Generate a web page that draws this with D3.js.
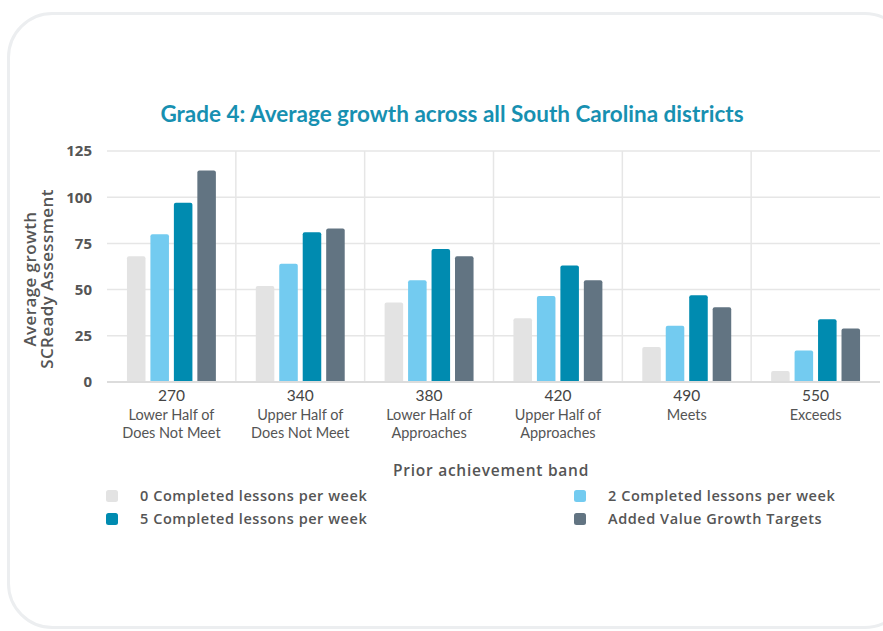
<!DOCTYPE html>
<html>
<head>
<meta charset="utf-8">
<script src="https://cdn.jsdelivr.net/npm/d3@7"></script>
<style>
  body { margin: 0; background: #fff; }
  svg { display: block; font-family: Lato, 'Open Sans', sans-serif; }
</style>
</head>
<body>
<div id="chart"></div>
<script>
// data
const bandScores = ['270', '340', '380', '420', '490', '550']
const bandNames = [
  ['Lower Half of', 'Does Not Meet'],
  ['Upper Half of', 'Does Not Meet'],
  ['Lower Half of', 'Approaches'],
  ['Upper Half of', 'Approaches'],
  ['Meets'],
  ['Exceeds']
]
const seriesNames = [
  '0 Completed lessons per week',
  '2 Completed lessons per week',
  '5 Completed lessons per week',
  'Added Value Growth Targets'
]
const zeroLessons = [68, 52, 43, 34.5, 19, 6]
const twoLessons = [80, 64, 55, 46.5, 30.5, 17]
const fiveLessons = [97, 81, 72, 63, 47, 34]
const growthTargets = [114.5, 83, 68, 55, 40.5, 29]
const yTicks = [0, 25, 50, 75, 100, 125]

const colors = ['#e3e3e3', '#73cbf0', '#008bb0', '#627482']
const seriesValues = [zeroLessons, twoLessons, fiveLessons, growthTargets]

const W = 883, H = 631
const margin = { top: 151, left: 107, right: 3, bottom: 249 }
const width = W - margin.left - margin.right
const height = H - margin.top - margin.bottom
const sans = "'Open Sans', sans-serif"

const svg = d3.select('#chart').append('svg')
  .attr('width', W)
  .attr('height', H)

// card outline
svg.append('rect')
  .attr('x', 8.5).attr('y', 13.5)
  .attr('width', 900).attr('height', 614)
  .attr('rx', 44).attr('ry', 44)
  .attr('fill', '#fff')
  .attr('stroke', '#eceef0')
  .attr('stroke-width', 3)

svg.append('text')
  .attr('x', 452).attr('y', 122)
  .attr('text-anchor', 'middle')
  .attr('font-size', 22.5)
  .attr('font-weight', 700)
  .attr('fill', '#1790b1')
  .text('Grade 4: Average growth across all South Carolina districts')

const g = svg.append('g')
  .attr('transform', 'translate(' + margin.left + ',' + margin.top + ')')

const x0 = d3.scaleBand().domain(bandScores).range([0, width]).padding(0)
const x1 = d3.scaleBand().domain(d3.range(seriesNames.length))
  .range([0, x0.bandwidth()])
  .paddingInner(0.21)
  .paddingOuter(0.85)
const y = d3.scaleLinear().domain([0, 125]).range([height, 0])

// horizontal grid
g.append('g')
  .selectAll('line')
  .data(yTicks.filter(d => d > 0))
  .join('line')
  .attr('x1', 0).attr('x2', width)
  .attr('y1', d => y(d)).attr('y2', d => y(d))
  .attr('stroke', '#e6e6e6')
  .attr('stroke-width', 1.5)

// vertical band separators
g.append('g')
  .selectAll('line')
  .data(bandScores.slice(1))
  .join('line')
  .attr('x1', d => x0(d)).attr('x2', d => x0(d))
  .attr('y1', 0).attr('y2', height)
  .attr('stroke', '#e6e6e6')
  .attr('stroke-width', 1.5)

// bars
const groups = g.selectAll('.band')
  .data(bandScores)
  .join('g')
  .attr('class', 'band')
  .attr('transform', d => 'translate(' + x0(d) + ',0)')

groups.selectAll('path')
  .data((d, i) => seriesValues.map((s, k) => ({ k: k, v: s[i] })))
  .join('path')
  .attr('fill', d => colors[d.k])
  .attr('d', d => {
    const bx = x1(d.k), bw = x1.bandwidth(), top = y(d.v), r = 2
    return 'M' + bx + ',' + height +
      'V' + (top + r) +
      'Q' + bx + ',' + top + ' ' + (bx + r) + ',' + top +
      'H' + (bx + bw - r) +
      'Q' + (bx + bw) + ',' + top + ' ' + (bx + bw) + ',' + (top + r) +
      'V' + height + 'Z'
  })

// baseline
g.append('line')
  .attr('x1', 0).attr('x2', width)
  .attr('y1', height).attr('y2', height)
  .attr('stroke', '#dcdcdc')
  .attr('stroke-width', 2)

// y axis
const yAxis = d3.axisLeft(y).tickValues(yTicks).tickSize(0).tickPadding(15)
g.append('g')
  .call(yAxis)
  .call(a => a.select('.domain').remove())
  .selectAll('text')
  .attr('font-family', sans)
  .attr('font-size', 15)
  .attr('font-weight', 700)
  .attr('fill', '#555')

svg.append('text')
  .attr('transform', 'translate(36,279) rotate(-90)')
  .attr('text-anchor', 'middle')
  .attr('font-family', sans)
  .attr('font-size', 17)
  .attr('font-weight', 600)
  .attr('letter-spacing', 0.4)
  .attr('fill', '#555')
  .selectAll('tspan')
  .data(['Average growth', 'SCReady Assessment'])
  .join('tspan')
  .attr('x', 0)
  .attr('dy', (d, i) => i === 0 ? 0 : 17)
  .text(d => d)

// x axis labels
const xAxis = d3.axisBottom(x0).tickSize(0).tickPadding(8)
const xg = g.append('g')
  .attr('transform', 'translate(0,' + height + ')')
  .call(xAxis)
xg.select('.domain').remove()
xg.selectAll('text')
  .attr('font-family', 'Lato, sans-serif')
  .attr('font-size', 15.5)
  .attr('fill', '#444')

g.append('g')
  .selectAll('text')
  .data(bandScores)
  .join('text')
  .attr('x', d => x0(d) + x0.bandwidth() / 2)
  .attr('y', height + 38)
  .attr('text-anchor', 'middle')
  .attr('font-size', 14.5)
  .attr('fill', '#555')
  .selectAll('tspan')
  .data((d, i) => bandNames[i])
  .join('tspan')
  .attr('x', function () { return d3.select(this.parentNode).attr('x') })
  .attr('dy', (d, i) => i === 0 ? 0 : 18)
  .text(d => d)

svg.append('text')
  .attr('x', 491).attr('y', 476)
  .attr('text-anchor', 'middle')
  .attr('font-family', sans)
  .attr('font-size', 15.5)
  .attr('font-weight', 600)
  .attr('letter-spacing', 0.75)
  .attr('fill', '#555')
  .text('Prior achievement band')

// legend, two columns
const legendX = [106, 574]
const legendY = [496, 519]
const legend = svg.append('g')
  .selectAll('g')
  .data(seriesNames)
  .join('g')
  .attr('transform', (d, i) => 'translate(' + legendX[i % 2] + ',' + legendY[Math.floor(i / 2)] + ')')

legend.append('rect')
  .attr('x', 0).attr('y', -6)
  .attr('width', 12).attr('height', 12)
  .attr('rx', 2.5)
  .attr('fill', (d, i) => colors[i])

legend.append('text')
  .attr('x', 34).attr('y', 5)
  .attr('font-family', sans)
  .attr('font-size', 14.5)
  .attr('font-weight', 600)
  .attr('letter-spacing', 0.55)
  .attr('fill', '#555')
  .text(d => d)
</script>
</body>
</html>
